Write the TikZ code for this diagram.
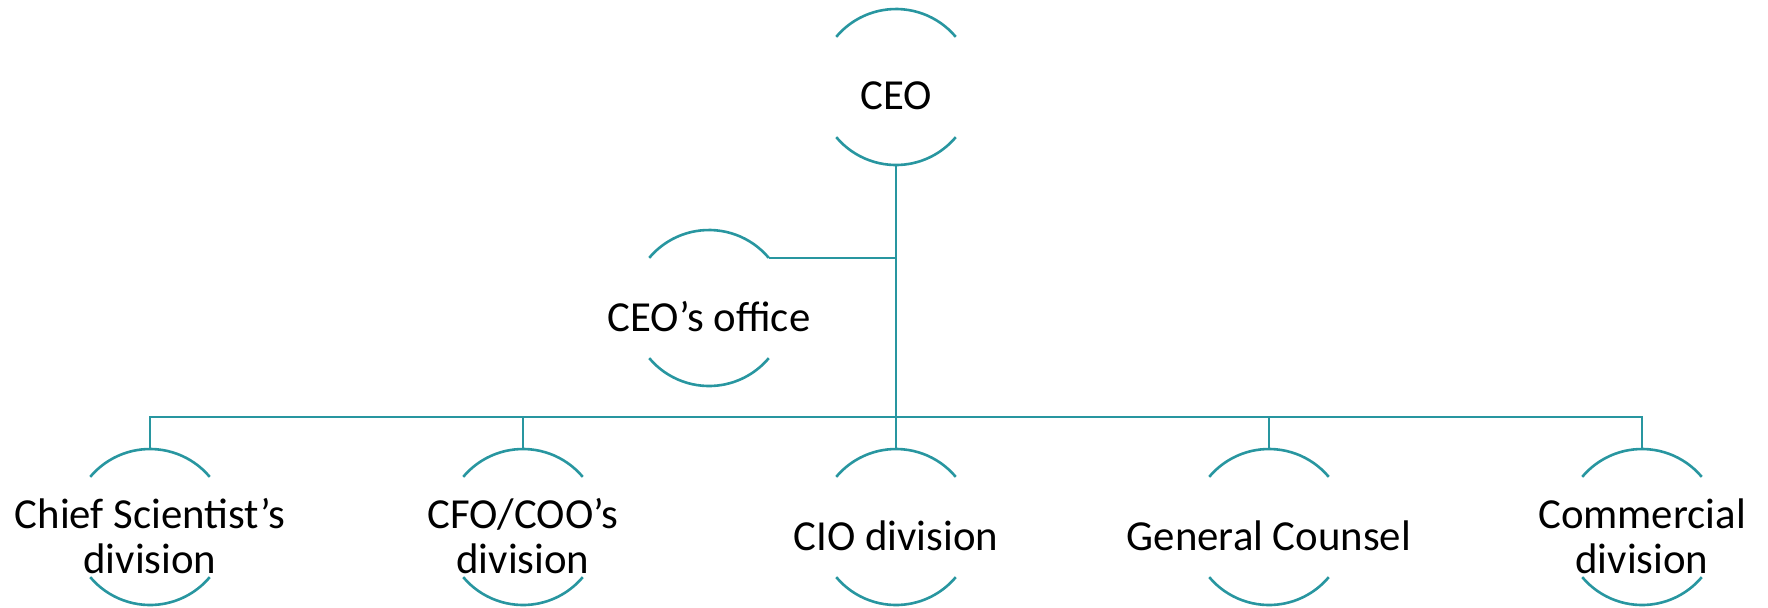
\documentclass[tikz,border=0pt]{standalone}
\usepackage{fontspec}
\setmainfont{Carlito}
\definecolor{ringteal}{RGB}{40,150,160}
\tikzset{
  role/.style={inner sep=0pt, outer sep=0pt, align=center,
    font=\fontsize{21.4}{22.5}\selectfont},
  ring/.style={draw=ringteal, line width=1.3pt},
}
\begin{document}
\begin{tikzpicture}[x=0.5pt,y=-0.5pt]
  \useasboundingbox (0,0) rectangle (1768,607);
  % top of the chart
  \node[role] (ceo) at (896,96) {CEO};
  \node[role] (office) at (709,317) {CEO’s office};
  % divisions
  \node[role] (chief) at (150,536) {Chief Scientist’s\\division};
  \node[role] (cfo) at (523,536) {CFO/COO’s\\division};
  \node[role] (cio) at (896,536) {CIO division};
  \node[role] (counsel) at (1269,536) {General Counsel};
  \node[role] (comm) at (1642,536) {Commercial\\division};

  % open rings round the text, centred a little above it
  \foreach \n in {ceo,office,chief,cfo,cio,counsel,comm}{
    \draw[ring] ([shift={(40:39pt)},yshift=4.5pt]\n.center) arc (40:140:39pt);
    \draw[ring] ([shift={(220:39pt)},yshift=4.5pt]\n.center) arc (220:320:39pt);
  }

  % lines
  \coordinate (bus) at (896,417);
  \draw[ring] ([yshift=-34.5pt]ceo.center) -- (bus);
  \draw[ring] ([shift={(40:39pt)},yshift=4.5pt]office.center) coordinate (o) -- (o -| bus);
  \foreach \n in {chief,cfo,cio,counsel,comm}
    \draw[ring] (bus) -| ([yshift=43.5pt]\n.center);
\end{tikzpicture}
\end{document}
